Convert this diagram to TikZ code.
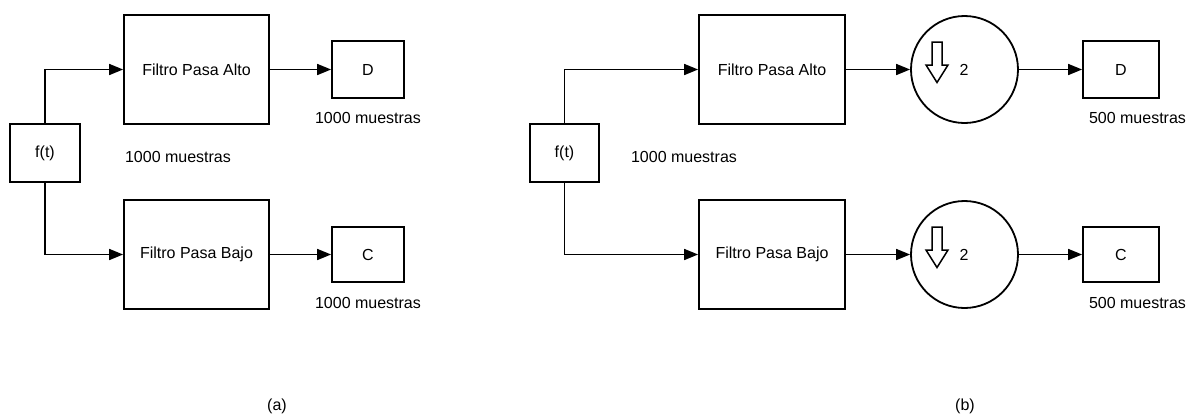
\documentclass[tikz,border=0pt]{standalone}
\usepackage{fontspec}
\setmainfont{Liberation Sans}
\usetikzlibrary{arrows.meta}
\begin{document}
\begin{tikzpicture}[x=1pt,y=-1pt,
  every node/.style={font=\fontsize{16}{19}\selectfont},
  blk/.style={draw, line width=1.8pt, rectangle, inner sep=0pt},
  circ/.style={draw, line width=1.8pt, circle, inner sep=0pt, minimum size=107pt},
  lbl/.style={inner sep=0pt},
  arr/.style={line width=1.7pt, -{Triangle[length=14pt,width=11pt]}},
  dn/.style={line width=1.5pt, line join=miter}
]
\useasboundingbox (0,0) rectangle (1189,416);
% ---------- (a) ----------
\node[blk, minimum width=70pt, minimum height=58pt] (fa) at (45,153) {f(t)};
\node[blk, minimum width=145pt, minimum height=109pt] (hpa) at (196.5,69.5) {Filtro Pasa Alto};
\node[blk, minimum width=145pt, minimum height=109pt] (lpa) at (196.5,254.5) {Filtro Pasa Bajo};
\node[blk, minimum width=72pt, minimum height=57pt] (da) at (368,69.5) {D};
\node[blk, minimum width=72pt, minimum height=55pt] (ca) at (368,254.5) {C};
\node[lbl] (ma1) at (368,118) {1000 muestras};
\node[lbl] (ma2) at (178,157) {1000 muestras};
\node[lbl] (ma3) at (368,303) {1000 muestras};
\draw[arr] (fa.north) |- (hpa.west);
\draw[arr] (fa.south) |- (lpa.west);
\draw[arr] (hpa.east) -- (da.west);
\draw[arr] (lpa.east) -- (ca.west);
\node[lbl] (capa) at (277,406) {(a)};
% ---------- (b) ----------
\node[blk, minimum width=69pt, minimum height=58pt] (fb) at (564.5,153) {f(t)};
\node[blk, minimum width=146pt, minimum height=109pt] (hpb) at (772,69.5) {Filtro Pasa Alto};
\node[blk, minimum width=146pt, minimum height=109pt] (lpb) at (772,254.5) {Filtro Pasa Bajo};
\node[circ] (d1) at (964.5,69.5) {};
\node[circ] (d2) at (964.5,254.5) {};
\node[lbl] (two1) at (964,70) {2};
\node[lbl] (two2) at (964,254.5) {2};
\foreach \c in {d1,d2}{
  \draw[dn] ([shift={(-32.5,-27.5)}]\c.center) -- ([shift={(-22.5,-27.5)}]\c.center)
    -- ([shift={(-22.5,-4.5)}]\c.center) -- ([shift={(-16.5,-4.5)}]\c.center)
    -- ([shift={(-27.5,13)}]\c.center) -- ([shift={(-38.5,-4.5)}]\c.center)
    -- ([shift={(-32.5,-4.5)}]\c.center) -- cycle;
}
\node[blk, minimum width=76pt, minimum height=57pt] (db) at (1121,69.5) {D};
\node[blk, minimum width=76pt, minimum height=55pt] (cb) at (1121,254.5) {C};
\node[lbl] (mb1) at (684,157) {1000 muestras};
\node[lbl] (mb2) at (1137.5,118) {500 muestras};
\node[lbl] (mb3) at (1137.5,303) {500 muestras};
\draw[arr] (fb.north) |- (hpb.west);
\draw[arr] (fb.south) |- (lpb.west);
\draw[arr] (hpb.east) -- (d1.west);
\draw[arr] (lpb.east) -- (d2.west);
\draw[arr] (d1.east) -- (db.west);
\draw[arr] (d2.east) -- (cb.west);
\node[lbl] (capb) at (965,406) {(b)};
\end{tikzpicture}
\end{document}
